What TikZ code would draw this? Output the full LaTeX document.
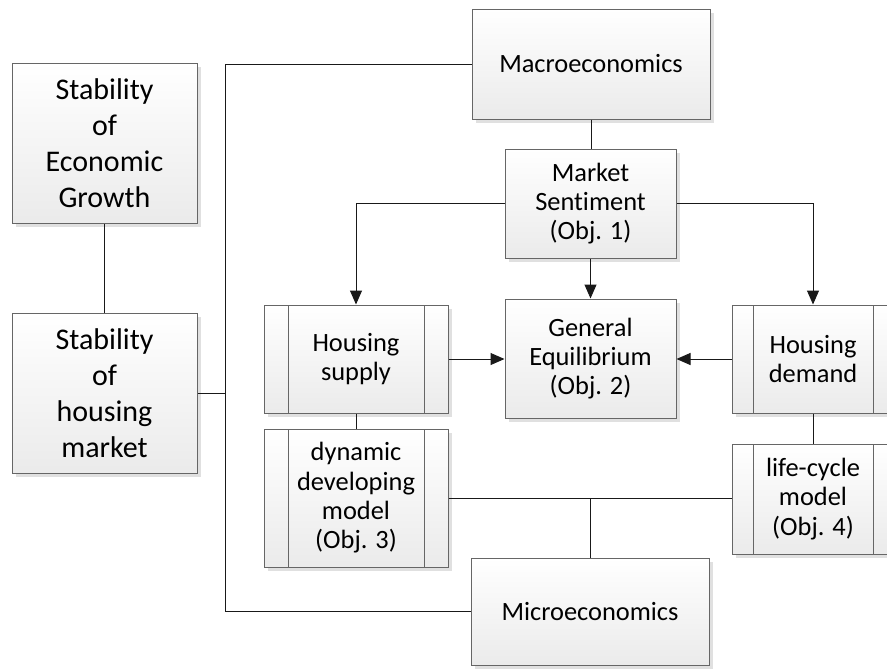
\documentclass[tikz,border=0pt]{standalone}
\usepackage{fontspec}
\setmainfont{Carlito}[Ligatures=NoCommon]
\usetikzlibrary{arrows.meta,shadows}

\tikzset{
  box/.style={draw=black!60, line width=0.75pt, top color=white, bottom color=black!8,
    drop shadow={shadow xshift=3pt, shadow yshift=-3pt, fill=black!12, opacity=1},
    align=center, inner sep=0pt, font=\fontsize{19.8}{22}\selectfont},
  bigbox/.style={box, font=\fontsize{22.5}{27}\selectfont},
  subbox/.style={box, path picture={
      \draw[black!60, line width=0.75pt]
        ([xshift=#1]path picture bounding box.north west) -- ([xshift=#1]path picture bounding box.south west)
        ([xshift=-#1]path picture bounding box.north east) -- ([xshift=-#1]path picture bounding box.south east);}},
  conn/.style={draw=black!90, line width=0.75pt},
  arr/.style={conn, -{Triangle[length=10.5pt,width=9pt]}}
}

\begin{document}
\begin{tikzpicture}[x=0.75pt, y=-0.75pt]
  \clip (0,0) rectangle (887,668);
  % left column
  \node[bigbox, minimum width=138.75pt, minimum height=120pt] (SEG) at (104.5,143) {Stability\\of\\Economic\\Growth};
  \node[bigbox, minimum width=138.75pt, minimum height=120pt] (SHM) at (104.5,393) {Stability\\of\\housing\\market};
  % middle column
  \node[box, minimum width=178.5pt, minimum height=82.5pt] (MAC) at (591,64) {Macroeconomics};
  \node[box, minimum width=128.25pt, minimum height=81.75pt] (MS) at (590.5,203.5) {Market\\Sentiment\\(Obj. 1)};
  \node[box, minimum width=128.25pt, minimum height=89.25pt] (GE) at (590.5,358.5) {General\\Equilibrium\\(Obj. 2)};
  \node[box, minimum width=178.5pt, minimum height=80.25pt] (MIC) at (590,611.5) {Microeconomics};
  % supply / demand side
  \node[subbox=18pt, minimum width=138pt, minimum height=81pt] (HS) at (356,359) {Housing\\supply};
  \node[subbox=18pt, minimum width=138pt, minimum height=103.5pt] (DDM) at (356,498) {dynamic\\developing\\model\\(Obj. 3)};
  \node[subbox=15.75pt, minimum width=121.5pt, minimum height=81pt] (HD) at (813,359) {Housing\\demand};
  \node[subbox=15.75pt, minimum width=121.5pt, minimum height=82.5pt] (LCM) at (813,499) {life-cycle\\model\\(Obj. 4)};

  % connectors
  \coordinate (SP) at (225,0);
  \draw[conn] (MAC.west) -| (SP |- MIC.west) -- (MIC.west);
  \draw[conn] (SHM.east) -- (SP |- SHM.east);
  \draw[conn] (SEG.south) -- (SHM.north);
  \draw[conn] (MAC.south) -- (MAC.south |- MS.north);
  \draw[arr] (MS.west) -| (HS.north);
  \draw[arr] (MS.east) -| (HD.north);
  \draw[arr] (MS.south) -- (GE.north);
  \draw[arr] (HS.east) -- (HS.east -| GE.west);
  \draw[arr] (HD.west) -- (HD.west -| GE.east);
  \draw[conn] (HS.south) -- (DDM.north);
  \draw[conn] (HD.south) -- (LCM.north);
  \draw[conn] (DDM.east) -- (DDM.east -| LCM.west);
  \coordinate (T) at (DDM.east -| MIC.north);
  \draw[conn] (T) -- (MIC.north);
\end{tikzpicture}
\end{document}
